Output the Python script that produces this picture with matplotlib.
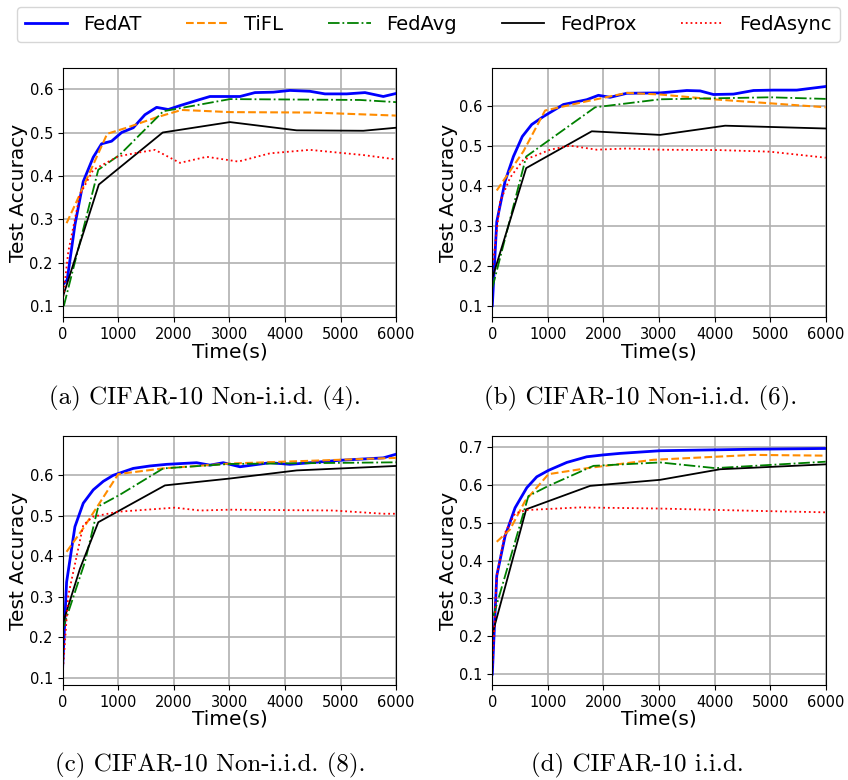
import matplotlib
matplotlib.use("Agg")
import matplotlib.pyplot as plt

# ---------------- data ----------------
methods = ["FedAT", "TiFL", "FedAvg", "FedProx", "FedAsync"]

# (a) CIFAR-10 Non-i.i.d. (4)
a_fedat_t = [0, 80, 220, 370, 550, 700, 880, 1060, 1270, 1480, 1690, 1900, 2110, 2440, 2650, 3190, 3460, 3790, 4090, 4450, 4720, 5110, 5440, 5770, 6000]
a_fedat_y = [0.149, 0.16, 0.287, 0.387, 0.443, 0.474, 0.48, 0.50, 0.511, 0.541, 0.558, 0.553, 0.562, 0.575, 0.583, 0.583, 0.592, 0.593, 0.597, 0.595, 0.589, 0.589, 0.592, 0.583, 0.59]
a_tifl_t = [70, 250, 800, 1150, 1690, 2140, 3010, 4500, 6000]
a_tifl_y = [0.291, 0.341, 0.497, 0.511, 0.535, 0.552, 0.547, 0.546, 0.539]
a_fedavg_t = [20, 640, 1030, 1810, 3010, 5350, 6000]
a_fedavg_y = [0.1, 0.414, 0.449, 0.549, 0.577, 0.575, 0.570]
a_fedprox_t = [0, 650, 1800, 3010, 4210, 5410, 6000]
a_fedprox_y = [0.12, 0.38, 0.50, 0.524, 0.505, 0.504, 0.511]
a_fedasync_t = [0, 100, 310, 550, 1000, 1330, 1660, 2110, 2590, 3160, 3730, 4450, 5410, 6000]
a_fedasync_y = [0.11, 0.225, 0.357, 0.414, 0.445, 0.453, 0.46, 0.43, 0.444, 0.433, 0.452, 0.46, 0.448, 0.438]

# (b) CIFAR-10 Non-i.i.d. (6)
b_fedat_t = [0, 80, 230, 380, 540, 710, 920, 1280, 1700, 1910, 2120, 2420, 3020, 3500, 3740, 3980, 4340, 4700, 5060, 5480, 6000]
b_fedat_y = [0.1, 0.31, 0.411, 0.473, 0.523, 0.553, 0.573, 0.603, 0.615, 0.626, 0.621, 0.631, 0.632, 0.638, 0.637, 0.628, 0.629, 0.638, 0.639, 0.639, 0.648]
b_tifl_t = [80, 560, 950, 1700, 2420, 3020, 3980, 5000, 6000]
b_tifl_y = [0.388, 0.486, 0.588, 0.611, 0.632, 0.628, 0.616, 0.606, 0.596]
b_fedavg_t = [0, 610, 1850, 3020, 5000, 6000]
b_fedavg_y = [0.144, 0.473, 0.596, 0.616, 0.621, 0.617]
b_fedprox_t = [0, 610, 1790, 3020, 4190, 6000]
b_fedprox_y = [0.169, 0.444, 0.536, 0.527, 0.55, 0.543]
b_fedasync_t = [0, 140, 320, 560, 740, 1040, 1400, 1880, 2420, 3020, 4100, 5000, 6000]
b_fedasync_y = [0.19, 0.36, 0.42, 0.465, 0.473, 0.49, 0.50, 0.49, 0.493, 0.49, 0.489, 0.485, 0.47]

# (c) CIFAR-10 Non-i.i.d. (8)
c_fedat_t = [0, 70, 220, 370, 550, 730, 910, 1270, 1570, 1870, 2410, 2650, 2890, 3190, 3730, 4090, 4990, 5770, 6000]
c_fedat_y = [0.129, 0.336, 0.473, 0.531, 0.564, 0.585, 0.6, 0.617, 0.623, 0.627, 0.631, 0.625, 0.631, 0.621, 0.631, 0.627, 0.637, 0.643, 0.652]
c_tifl_t = [70, 370, 1000, 1810, 3010, 6000]
c_tifl_y = [0.411, 0.469, 0.603, 0.617, 0.629, 0.643]
c_fedavg_t = [0, 400, 640, 1030, 1810, 3010, 6000]
c_fedavg_y = [0.22, 0.386, 0.523, 0.552, 0.617, 0.628, 0.632]
c_fedprox_t = [0, 310, 640, 1840, 3010, 4210, 6000]
c_fedprox_y = [0.233, 0.369, 0.484, 0.575, 0.592, 0.612, 0.623]
c_fedasync_t = [0, 100, 370, 550, 1000, 2020, 2470, 3010, 4870, 5770, 6000]
c_fedasync_y = [0.11, 0.303, 0.477, 0.498, 0.51, 0.52, 0.513, 0.515, 0.513, 0.505, 0.505]

# (d) CIFAR-10 i.i.d.
d_fedat_t = [0, 80, 230, 410, 620, 800, 1010, 1340, 1700, 2000, 2300, 3020, 4700, 6000]
d_fedat_y = [0.1, 0.36, 0.465, 0.54, 0.593, 0.622, 0.639, 0.66, 0.675, 0.68, 0.684, 0.691, 0.695, 0.697]
d_tifl_t = [80, 320, 590, 1010, 1760, 2900, 4700, 6000]
d_tifl_y = [0.45, 0.483, 0.558, 0.629, 0.646, 0.667, 0.68, 0.678]
d_fedavg_t = [20, 650, 1010, 1820, 3020, 4010, 6000]
d_fedavg_y = [0.254, 0.571, 0.598, 0.651, 0.66, 0.645, 0.662]
d_fedprox_t = [0, 610, 1760, 3020, 4100, 6000]
d_fedprox_y = [0.205, 0.536, 0.598, 0.614, 0.642, 0.655]
d_fedasync_t = [0, 80, 230, 410, 610, 1580, 3020, 4700, 6000]
d_fedasync_y = [0.11, 0.36, 0.474, 0.525, 0.534, 0.541, 0.538, 0.532, 0.528]

captions = ["(a) CIFAR-10 Non-i.i.d. (4).", "(b) CIFAR-10 Non-i.i.d. (6).",
            "(c) CIFAR-10 Non-i.i.d. (8).", "(d) CIFAR-10 i.i.d."]

panels = [
    [(a_fedat_t, a_fedat_y), (a_tifl_t, a_tifl_y), (a_fedavg_t, a_fedavg_y), (a_fedprox_t, a_fedprox_y), (a_fedasync_t, a_fedasync_y)],
    [(b_fedat_t, b_fedat_y), (b_tifl_t, b_tifl_y), (b_fedavg_t, b_fedavg_y), (b_fedprox_t, b_fedprox_y), (b_fedasync_t, b_fedasync_y)],
    [(c_fedat_t, c_fedat_y), (c_tifl_t, c_tifl_y), (c_fedavg_t, c_fedavg_y), (c_fedprox_t, c_fedprox_y), (c_fedasync_t, c_fedasync_y)],
    [(d_fedat_t, d_fedat_y), (d_tifl_t, d_tifl_y), (d_fedavg_t, d_fedavg_y), (d_fedprox_t, d_fedprox_y), (d_fedasync_t, d_fedasync_y)],
]

# ---------------- style ----------------
styles = [
    dict(color="blue", linestyle="-", linewidth=2.0),
    dict(color="darkorange", linestyle="--", linewidth=1.5),
    dict(color="green", linestyle="-.", linewidth=1.3),
    dict(color="black", linestyle="-", linewidth=1.3),
    dict(color="red", linestyle=":", linewidth=1.3),
]
ylims = [(0.074, 0.648), (0.071, 0.6935), (0.082, 0.697), (0.071, 0.73)]

W, H = 848, 780
fig = plt.figure(figsize=(W / 100, H / 100), dpi=100)

ax_w = 333.4 / W
ax_h = 249.0 / H
positions = [
    (62.7 / W, 1 - 317.3 / H),
    (492.3 / W, 1 - 317.3 / H),
    (62.7 / W, 1 - 685.0 / H),
    (492.3 / W, 1 - 685.0 / H),
]

lines = []
for i, (pos, series) in enumerate(zip(positions, panels)):
    ax = fig.add_axes([pos[0], pos[1], ax_w, ax_h])
    for (t, y), st, name in zip(series, styles, methods):
        ln, = ax.plot(t, y, label=name, **st)
        if i == 0:
            lines.append(ln)
    ax.set_xlim(0, 6000)
    ax.set_ylim(*ylims[i])
    ax.set_xticks([0, 1000, 2000, 3000, 4000, 5000, 6000])
    ax.grid(True, color="#b0b0b0", linewidth=1.2)
    ax.set_axisbelow(True)
    ax.tick_params(labelsize=10.5)
    ax.set_xlabel("Time(s)", fontsize=14.5, labelpad=0)
    ax.set_ylabel("Test Accuracy", fontsize=14.5, labelpad=1)

fig.legend(lines, methods, loc="upper center", bbox_to_anchor=(0.505, 0.996),
           ncol=5, fontsize=14, columnspacing=2.3, handlelength=2.2,
           borderaxespad=0.2)

cap_pos = [(205 / W, 1 - 398 / H), (641 / W, 1 - 398 / H),
           (210 / W, 1 - 765 / H), (637 / W, 1 - 765 / H)]
for (x, y), cap in zip(cap_pos, captions):
    fig.text(x, y, cap, ha="center", va="center", fontsize=18, family="cmr10")

fig.savefig("out.png", dpi=100)
